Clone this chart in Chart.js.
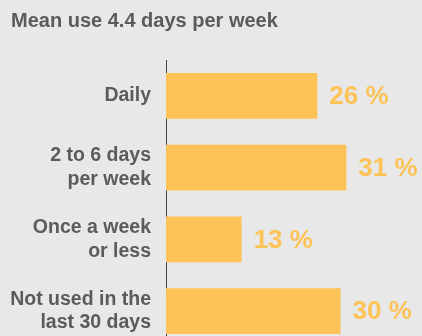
<!DOCTYPE html>
<html>
<head>
<meta charset="utf-8">
<script src="https://cdn.jsdelivr.net/npm/chart.js@4"></script>
<style>
    html, body { margin: 0; padding: 0; background: #e8e8e8; overflow: hidden; }
    canvas { display: block; }
</style>
</head>
<body>
<canvas id="grafico" width="422" height="347"></canvas>
<script>
const titulo = 'Mean use 4.4 days per week';
const categorias = [
    'Daily',
    ['2 to 6 days', 'per week'],
    ['Once a week', 'or less'],
    ['Not used in the', 'last 30 days']
];
const porcentajes = [26, 31, 13, 30];

const colorBarra = '#fdc357';
const colorTexto = '#5b5b5b';
const fuente = "'Liberation Sans', Arial, sans-serif";

// Escribe "NN %" a la derecha de cada barra
const etiquetasValor = {
    id: 'etiquetasValor',
    afterDatasetsDraw(chart) {
        const ctx = chart.ctx;
        const meta = chart.getDatasetMeta(0);
        ctx.save();
        ctx.font = `bold 26px ${fuente}`;
        ctx.fillStyle = colorBarra;
        ctx.textAlign = 'left';
        ctx.textBaseline = 'middle';
        meta.data.forEach((barra, i) => {
            ctx.fillText(`${porcentajes[i]} %`, barra.x + 12, barra.y + 1);
        });
        ctx.restore();
    }
};

new Chart(document.getElementById('grafico'), {
    type: 'bar',
    data: {
        labels: categorias,
        datasets: [{
            data: porcentajes,
            backgroundColor: colorBarra,
            borderWidth: 0,
            categoryPercentage: 1,
            barPercentage: 0.64
        }]
    },
    options: {
        indexAxis: 'y',
        responsive: false,
        animation: false,
        devicePixelRatio: 1,
        layout: { padding: { left: 11, right: 0, top: 0, bottom: 0 } },
        plugins: {
            legend: { display: false },
            tooltip: { enabled: false },
            title: {
                display: true,
                text: titulo,
                align: 'start',
                color: colorTexto,
                font: { family: fuente, size: 20, weight: 'bold', lineHeight: 1.2 },
                padding: { top: 9, bottom: 27 }
            }
        },
        scales: {
            x: {
                display: false,
                min: 0,
                max: 44
            },
            y: {
                z: 1,
                afterFit: (escala) => {
                    // ancho fijo y sin reservar espacio extra por las etiquetas de dos líneas
                    escala.width = 155;
                    escala.paddingTop = 0;
                    escala.paddingBottom = 0;
                },
                grid: { display: false, drawTicks: false },
                border: { display: true, color: '#444', width: 1, dash: [1, 1] },
                ticks: {
                    padding: 15,
                    color: colorTexto,
                    font: { family: fuente, size: 19.5, weight: 'bold', lineHeight: 1.23 }
                }
            }
        }
    },
    plugins: [etiquetasValor]
});
</script>
</body>
</html>
